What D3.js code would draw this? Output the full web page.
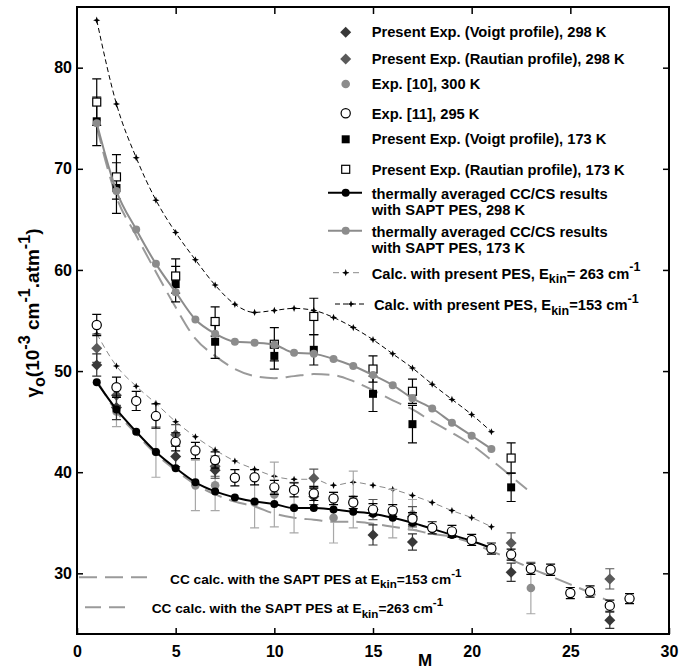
<!DOCTYPE html>
<html lang="en">
<head>
<meta charset="UTF-8">
<title>Broadening coefficients vs M</title>
<script src="https://d3js.org/d3.v7.min.js"></script>
<style>
  body { margin: 0; background: #fff; }
  svg text { font-family: "Liberation Sans", Arial, sans-serif; font-weight: bold; fill: #000; }
</style>
</head>
<body>
<svg class="chart"></svg>
<script>
// ---- data ----
const mCalc = [1, 2, 3, 4, 5, 6, 7, 8, 9, 10, 11, 12, 13, 14, 15, 16, 17, 18, 19, 20, 21];
const calc153 = [84.7, 76.4, 71.1, 66.9, 63.7, 61.0, 58.5, 56.6, 55.8, 56.0, 56.2, 56.0, 55.3, 54.3, 53.1, 51.7, 50.3, 48.7, 47.2, 45.7, 44.0];
const calc263 = [53.7, 50.5, 48.5, 46.8, 45.0, 43.5, 42.2, 41.1, 40.3, 39.6, 39.3, 39.3, 38.7, 39.0, 38.7, 38.3, 37.7, 37.0, 36.2, 35.5, 34.6];
const thermal298 = [48.9, 46.2, 44.0, 42.0, 40.4, 39.0, 38.1, 37.5, 37.1, 36.85, 36.45, 36.45, 36.3, 36.1, 35.9, 35.5, 35.0, 34.4, 33.8, 33.2, 32.5];
const thermal173 = [74.5, 67.8, 64.0, 60.6, 57.8, 55.1, 53.7, 52.9, 52.8, 52.6, 51.8, 51.7, 51.2, 50.5, 49.6, 48.6, 47.3, 46.3, 44.9, 43.6, 42.3];

const mCC153 = [1, 2, 3, 4, 5, 6, 7, 8, 9, 10, 11, 12, 13, 14, 15, 16, 17, 18, 19, 20, 21, 22, 22.8];
const cc153 = [74.2, 67.2, 63.4, 59.8, 56.3, 53.2, 51.5, 50.2, 49.5, 49.3, 49.5, 49.7, 49.6, 49.0, 48.1, 47.1, 46.2, 45.0, 43.9, 42.7, 41.2, 39.6, 38.3];
const mCC263 = [1, 2, 3, 4, 5, 6, 7, 8, 9, 10, 11, 12, 13, 14, 15, 16, 17, 18, 19, 20, 21, 22, 23, 24, 25, 26, 27];
const cc263 = [49.1, 46.0, 43.8, 41.8, 40.2, 38.8, 37.8, 37.1, 36.6, 35.9, 35.5, 35.3, 35.1, 35.1, 34.9, 34.6, 34.3, 33.9, 33.6, 33.0, 32.2, 31.35, 30.5, 29.7, 28.9, 28.1, 27.2];

// Exp. [11], 295 K (open circles)
const mExp11 = [1, 2, 3, 4, 5, 6, 7, 8, 9, 10, 11, 12, 13, 14, 15, 16, 17, 18, 19, 20, 21, 22, 23, 24, 25, 26, 27, 28];
const exp11 = [54.55, 48.4, 47.05, 45.55, 43.0, 42.15, 41.2, 39.45, 39.5, 38.5, 38.25, 37.9, 37.4, 37.0, 36.3, 36.2, 35.4, 34.5, 34.15, 33.3, 32.45, 31.85, 30.45, 30.35, 28.05, 28.2, 26.8, 27.5];
const exp11Err = [1.05, 1.0, 0.95, 1.2, 0.9, 0.8, 0.8, 0.8, 0.75, 0.7, 0.7, 0.7, 0.6, 0.6, 0.6, 0.6, 0.6, 0.6, 0.6, 0.55, 0.55, 0.55, 0.55, 0.55, 0.55, 0.55, 0.55, 0.5];

// Exp. [10], 300 K (grey circles)
const mExp10 = [2, 4, 6, 7, 9, 10, 11, 13, 14, 16, 17, 23];
const exp10 = [46.0, 42.0, 38.7, 38.7, 37.0, 37.8, 36.5, 35.5, 37.3, 35.9, 35.8, 28.55];
const exp10Err = [1.5, 2.5, 2.5, 2.5, 2.5, 3.2, 2.5, 2.5, 2.8, 2.4, 1.5, 2.55];

// present experiment, 298 K (diamonds)
const mPresent298 = [1, 2, 5, 7, 12, 15, 17, 22, 27];
const voigt298 = [50.6, 46.4, 41.55, 40.2, 37.6, 33.8, 33.1, 30.1, 25.35];
const voigt298Err = [1.1, 1.2, 1.0, 0.8, 0.8, 1.0, 0.8, 0.9, 0.8];
const rautian298 = [52.25, 47.6, 43.7, 40.6, 39.4, 36.3, 35.6, 33.0, 29.45];
const rautian298Err = [1.4, 1.0, 1.0, 1.0, 0.9, 1.0, 1.0, 1.0, 1.0];

// present experiment, 173 K (squares)
const mPresent173 = [1, 2, 5, 7, 10, 12, 15, 17, 22];
const voigt173 = [74.7, 68.1, 58.6, 52.9, 51.5, 52.1, 47.75, 44.75, 38.5];
const voigt173Err = [2.4, 2.5, 1.75, 1.65, 1.3, 1.5, 1.75, 1.85, 1.4];
const rautian173 = [76.6, 69.2, 59.4, 54.9, 52.65, 55.4, 50.2, 48.0, 41.4];
const rautian173Err = [2.3, 2.2, 1.7, 1.45, 1.65, 1.8, 1.3, 1.2, 1.5];

const xTicks = [0, 5, 10, 15, 20, 25, 30];
const yTicks = [30, 40, 50, 60, 70, 80];

// ---- layout ----
const width = 699, height = 671;
const plot = { left: 77, right: 669, top: 7, bottom: 634 };

const svg = d3.select(".chart").attr("width", width).attr("height", height);

const x = d3.scaleLinear().domain([0, 30]).range([plot.left, plot.right]);
const y = d3.scaleLinear().domain([24, 86]).range([plot.bottom, plot.top]);

const zip = (ms, vs, es) => ms.map((m, i) => ({ m: m, v: vs[i], e: es ? es[i] : 0 }));

// marker shapes
const diamondPath = "M0,-5.5L5.5,0L0,5.5L-5.5,0Z";
const starPath = "M0,-3.6L1,-1L3.6,0L1,1L0,3.6L-1,1L-3.6,0L-1,-1Z";

const curve = d3.line().x(d => x(d.m)).y(d => y(d.v)).curve(d3.curveMonotoneX);

const chart = svg.append("g");

function drawLine(data, color, w, dash) {
    chart.append("path")
        .datum(data)
        .attr("d", curve)
        .attr("fill", "none")
        .attr("stroke", color)
        .attr("stroke-width", w)
        .attr("stroke-dasharray", dash || null);
}

function drawErrors(data, color) {
    const g = chart.append("g").attr("stroke", color).attr("stroke-width", 1.2).attr("fill", "none");
    data.forEach(d => {
        const cx = x(d.m), y0 = y(d.v - d.e), y1 = y(d.v + d.e);
        g.append("path").attr("d", `M${cx},${y0}V${y1}M${cx - 4.5},${y0}H${cx + 4.5}M${cx - 4.5},${y1}H${cx + 4.5}`);
    });
}

function drawMarks(data, kind, fill, stroke) {
    const g = chart.append("g");
    data.forEach(d => {
        const cx = x(d.m), cy = y(d.v);
        if (kind === "circle") {
            g.append("circle").attr("cx", cx).attr("cy", cy).attr("r", stroke ? 4.6 : 4.3)
                .attr("fill", fill).attr("stroke", stroke || "none").attr("stroke-width", 1.2);
        } else if (kind === "dot") {
            g.append("circle").attr("cx", cx).attr("cy", cy).attr("r", 4).attr("fill", fill);
        } else if (kind === "square") {
            g.append("rect").attr("x", cx - 4).attr("y", cy - 4).attr("width", 8).attr("height", 8)
                .attr("fill", fill).attr("stroke", stroke || "none").attr("stroke-width", 1.2);
        } else if (kind === "diamond") {
            g.append("path").attr("d", diamondPath).attr("transform", `translate(${cx},${cy})`).attr("fill", fill);
        } else if (kind === "star") {
            g.append("path").attr("d", starPath).attr("transform", `translate(${cx},${cy})`).attr("fill", fill);
        }
    });
}

// theory curves
drawLine(zip(mCC153, cc153), "#9a9a9a", 2, "18,8");
drawLine(zip(mCC263, cc263), "#9a9a9a", 2, "18,8");
drawLine(zip(mCalc, calc263), "#8a8a8a", 1, "6,4");
drawMarks(zip(mCalc, calc263), "star", "#000");
drawLine(zip(mCalc, calc153), "#000", 1, "5,3");
drawMarks(zip(mCalc, calc153), "star", "#000");

// Exp. [10]
drawErrors(zip(mExp10, exp10, exp10Err), "#a8a8a8");
drawMarks(zip(mExp10, exp10), "circle", "#8c8c8c");

// present experiment 298 K
drawErrors(zip(mPresent298, rautian298, rautian298Err), "#555");
drawMarks(zip(mPresent298, rautian298), "diamond", "#5a5a5a");
drawErrors(zip(mPresent298, voigt298, voigt298Err), "#333");
drawMarks(zip(mPresent298, voigt298), "diamond", "#383838");

// present experiment 173 K
drawErrors(zip(mPresent173, voigt173, voigt173Err), "#000");
drawMarks(zip(mPresent173, voigt173), "square", "#000");
drawErrors(zip(mPresent173, rautian173, rautian173Err), "#000");
drawMarks(zip(mPresent173, rautian173), "square", "#fff", "#000");

// thermally averaged results
drawLine(zip(mCalc, thermal298), "#000", 2);
drawMarks(zip(mCalc, thermal298), "dot", "#000");
drawLine(zip(mCalc, thermal173), "#8c8c8c", 2);
drawMarks(zip(mCalc, thermal173), "dot", "#8c8c8c");

// Exp. [11]
drawErrors(zip(mExp11, exp11, exp11Err), "#000");
drawMarks(zip(mExp11, exp11), "circle", "#fff", "#000");

// ---- axes and frame ----
function styleAxis(g, size) {
    g.select(".domain").remove();
    g.selectAll(".tick line").attr("stroke", "#000").attr("stroke-width", 1.5);
    g.selectAll(".tick text").style("font-size", size + "px").attr("fill", "#000");
}

svg.append("g")
    .attr("transform", `translate(0,${plot.bottom})`)
    .call(d3.axisBottom(x).tickValues(xTicks).tickSize(-6).tickPadding(12))
    .call(g => styleAxis(g, 16));

svg.append("g")
    .attr("transform", `translate(${plot.left},0)`)
    .call(d3.axisLeft(y).tickValues(yTicks).tickSize(-6).tickPadding(5))
    .call(g => styleAxis(g, 16));

svg.append("g")
    .attr("transform", `translate(0,${plot.top})`)
    .call(d3.axisTop(x).tickValues(xTicks.slice(1, -1)).tickSize(-7).tickFormat(""))
    .call(g => styleAxis(g, 16));

svg.append("g")
    .attr("transform", `translate(${plot.right},0)`)
    .call(d3.axisRight(y).tickValues(yTicks).tickSize(-6).tickFormat(""))
    .call(g => styleAxis(g, 16));

svg.append("rect")
    .attr("x", plot.left).attr("y", plot.top)
    .attr("width", plot.right - plot.left).attr("height", plot.bottom - plot.top)
    .attr("fill", "none").attr("stroke", "#000").attr("stroke-width", 2);

// rich text helper for sub/superscripts
function rich(parent, px, py, parts, size) {
    const t = parent.append("text").attr("x", px).attr("y", py).style("font-size", size + "px");
    let shift = 0;
    parts.forEach(p => {
        const target = p.sub ? size * 0.32 : p.sup ? -size * 0.5 : 0;
        t.append("tspan")
            .attr("dy", target - shift)
            .style("font-size", (p.sub || p.sup) ? (size * 0.85) + "px" : null)
            .text(p.t);
        shift = target;
    });
    return t;
}

// axis titles
svg.append("text")
    .attr("x", 425).attr("y", 666)
    .attr("text-anchor", "middle")
    .style("font-size", "17px")
    .text("M");

const yTitle = svg.append("g").attr("transform", "translate(39,313) rotate(-90)");
rich(yTitle, 0, 0, [
    { t: "γ" }, { t: "o", sub: true }, { t: "(10" }, { t: "-3", sup: true },
    { t: " cm" }, { t: "-1", sup: true }, { t: ".atm" }, { t: "-1", sup: true }, { t: ")" }
], 19).attr("text-anchor", "middle");

// ---- legend ----
const legend = svg.append("g");
const symX = 345.7, textX = 371.7, fs = 14.7;

const rows = [
    { kind: "diamond", fill: "#383838", sy: 32.3, ty: 37.3, label: "Present Exp. (Voigt profile), 298 K" },
    { kind: "diamond", fill: "#5a5a5a", sy: 59, ty: 64, label: "Present Exp. (Rautian profile), 298 K" },
    { kind: "circle", fill: "#8c8c8c", sy: 84, ty: 89.3, label: "Exp. [10], 300 K" },
    { kind: "circle", fill: "#fff", stroke: "#000", sy: 113.3, ty: 119, label: "Exp. [11], 295 K" },
    { kind: "square", fill: "#000", sy: 139.3, ty: 144.3, label: "Present Exp. (Voigt profile), 173 K" },
    { kind: "square", fill: "#fff", stroke: "#000", sy: 169.3, ty: 174.7, label: "Present Exp. (Rautian profile), 173 K" }
];

rows.forEach(r => {
    const g = legend.append("g");
    if (r.kind === "diamond") {
        g.append("path").attr("d", diamondPath).attr("transform", `translate(${symX},${r.sy})`).attr("fill", r.fill);
    } else if (r.kind === "circle") {
        g.append("circle").attr("cx", symX).attr("cy", r.sy).attr("r", r.stroke ? 4.6 : 4.3)
            .attr("fill", r.fill).attr("stroke", r.stroke || "none").attr("stroke-width", 1.2);
    } else {
        g.append("rect").attr("x", symX - 4).attr("y", r.sy - 4).attr("width", 8).attr("height", 8)
            .attr("fill", r.fill).attr("stroke", r.stroke || "none").attr("stroke-width", 1.2);
    }
    g.append("text").attr("x", textX).attr("y", r.ty).style("font-size", fs + "px").text(r.label);
});

// thermally averaged entries
[
    { color: "#000", w: 2, sy: 192.7, ty: [199, 215], l2: "with SAPT PES, 298 K" },
    { color: "#8c8c8c", w: 2, sy: 230.7, ty: [236.7, 252.7], l2: "with SAPT PES, 173 K" }
].forEach(r => {
    legend.append("line").attr("x1", 328).attr("x2", 362).attr("y1", r.sy).attr("y2", r.sy)
        .attr("stroke", r.color).attr("stroke-width", r.w);
    legend.append("circle").attr("cx", symX).attr("cy", r.sy).attr("r", 4).attr("fill", r.color);
    legend.append("text").attr("x", textX).attr("y", r.ty[0]).style("font-size", fs + "px").text("thermally averaged CC/CS results");
    legend.append("text").attr("x", textX).attr("y", r.ty[1]).style("font-size", fs + "px").text(r.l2);
});

// calc with present PES entries
legend.append("line").attr("x1", 333).attr("x2", 363).attr("y1", 272.7).attr("y2", 272.7)
    .attr("stroke", "#8a8a8a").attr("stroke-width", 1).attr("stroke-dasharray", "6,4");
legend.append("path").attr("d", starPath).attr("transform", `translate(${symX},272.7)`).attr("fill", "#000");
rich(legend, textX, 278.7, [
    { t: "Calc. with present PES, E" }, { t: "kin", sub: true }, { t: "= 263 cm" }, { t: "-1", sup: true }
], fs);

legend.append("line").attr("x1", 335).attr("x2", 366).attr("y1", 304).attr("y2", 304)
    .attr("stroke", "#000").attr("stroke-width", 1).attr("stroke-dasharray", "5,3");
legend.append("path").attr("d", starPath).attr("transform", "translate(351,304)").attr("fill", "#000");
rich(legend, 374, 310, [
    { t: "Calc. with present PES, E" }, { t: "kin", sub: true }, { t: "=153 cm" }, { t: "-1", sup: true }
], fs);

// CC calc entries (bottom left)
legend.append("line").attr("x1", 79).attr("x2", 147).attr("y1", 577.3).attr("y2", 577.3)
    .attr("stroke", "#9a9a9a").attr("stroke-width", 2).attr("stroke-dasharray", "18,8");
rich(legend, 170, 584, [
    { t: "CC calc. with the SAPT PES at E" }, { t: "kin", sub: true }, { t: "=153 cm" }, { t: "-1", sup: true }
], 13.7);

legend.append("line").attr("x1", 85).attr("x2", 133).attr("y1", 607.3).attr("y2", 607.3)
    .attr("stroke", "#9a9a9a").attr("stroke-width", 2).attr("stroke-dasharray", "16,8");
rich(legend, 151.7, 613.3, [
    { t: "CC calc. with the SAPT PES at E" }, { t: "kin", sub: true }, { t: "=263 cm" }, { t: "-1", sup: true }
], 13.7);
</script>
</body>
</html>
